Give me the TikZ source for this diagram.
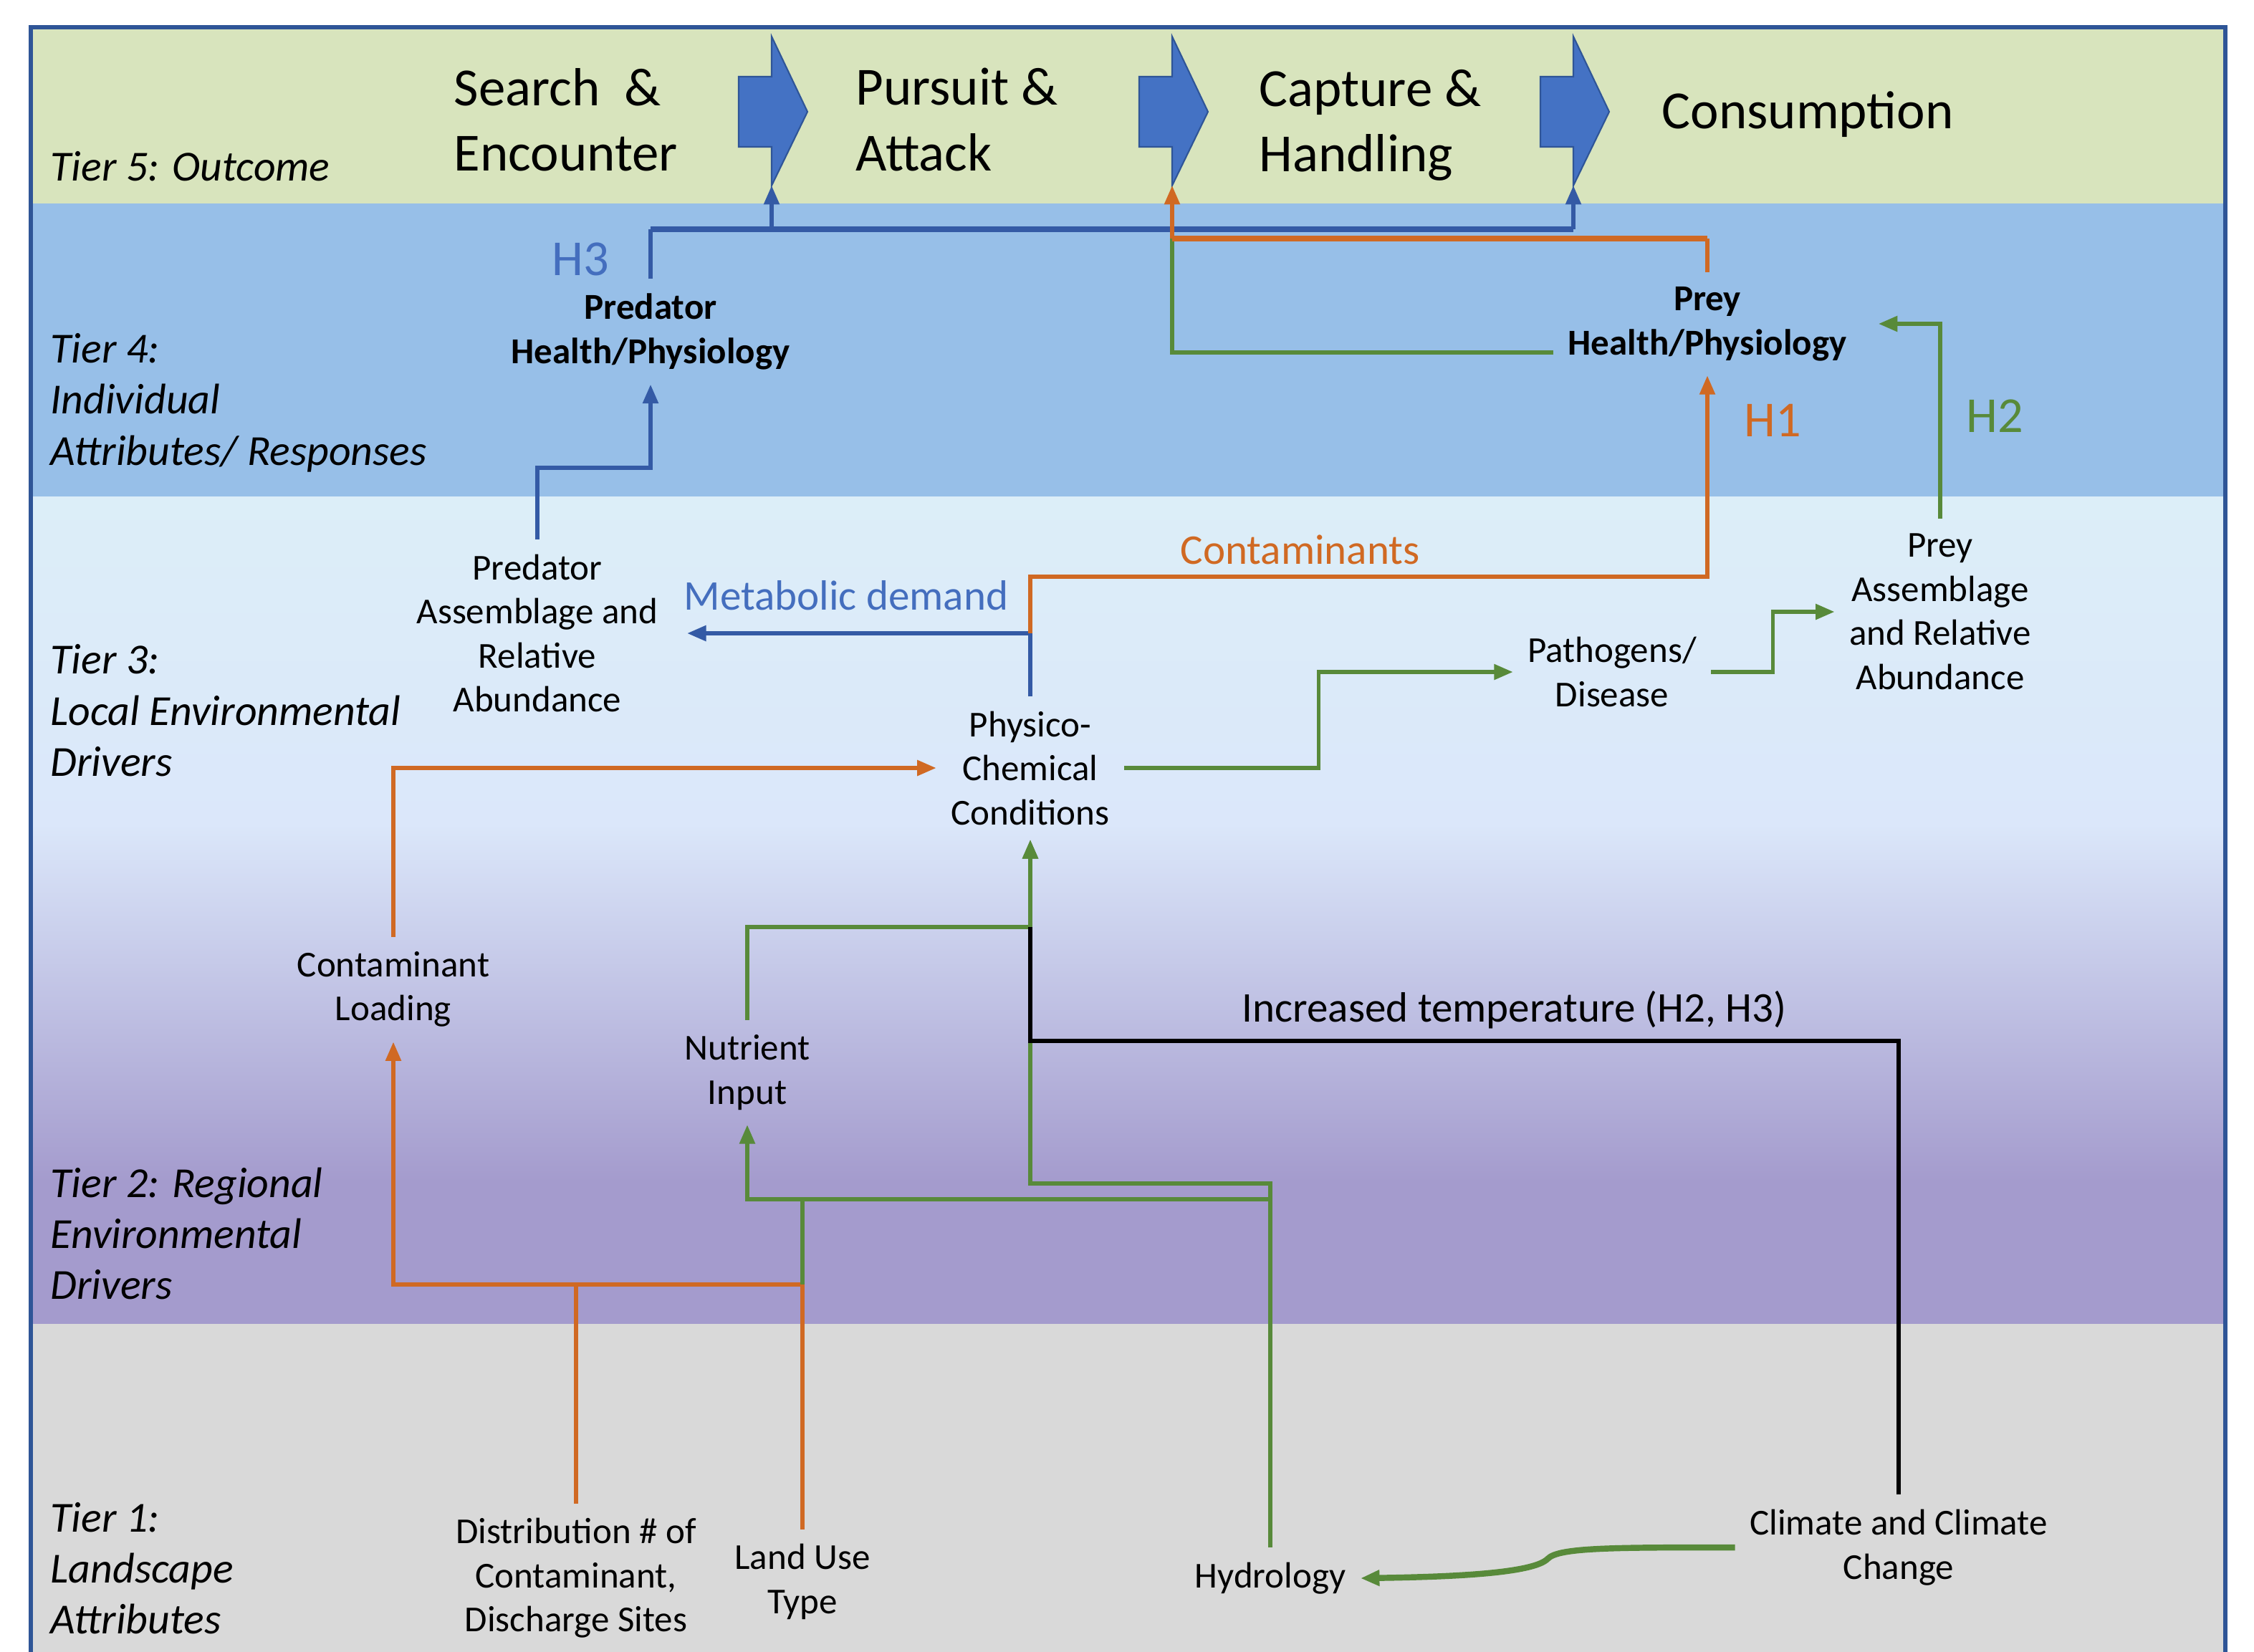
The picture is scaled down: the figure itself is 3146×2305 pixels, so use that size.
\documentclass[tikz,border=0pt]{standalone}
\usepackage{fontspec}
\setmainfont{Carlito}
\usepackage{xcolor}
\usetikzlibrary{arrows.meta,calc}

\definecolor{tierfive}{RGB}{216,228,189}
\definecolor{tierfour}{RGB}{151,191,232}
\definecolor{tierthree}{RGB}{220,238,248}
\definecolor{tiermid}{RGB}{219,231,250}
\definecolor{tiertwo}{RGB}{164,155,205}
\definecolor{tierone}{RGB}{217,217,217}
\definecolor{frameblue}{RGB}{47,85,151}
\definecolor{chevblue}{RGB}{68,114,196}
\definecolor{lineblue}{RGB}{52,90,165}
\definecolor{lineorange}{RGB}{208,105,35}
\definecolor{linegreen}{RGB}{88,138,58}
\definecolor{textblue}{RGB}{68,110,190}

\begin{document}
\begin{tikzpicture}[x=0.01cm, y=-0.01cm,
    >={Triangle[length=7.5pt,width=6pt]},
    box/.style={align=center, inner sep=0.2cm, font=\fontsize{14.5}{17.5}\selectfont},
    boxb/.style={box, font=\fontsize{14.5}{17.5}\selectfont\bfseries},
    stage/.style={align=left, anchor=west, inner sep=0, font=\fontsize{21.3}{26}\selectfont},
    tier/.style={align=left, anchor=west, inner sep=0, font=\fontsize{17}{20.3}\selectfont\itshape},
    lab/.style={anchor=base west, inner sep=0, font=\fontsize{16.8}{20}\selectfont},
    hlab/.style={anchor=base west, inner sep=0, font=\fontsize{20}{24}\selectfont},
    chev/.style={fill=chevblue, draw=frameblue, line width=0.6pt},
    bline/.style={draw=lineblue, line width=1.5pt},
    oline/.style={draw=lineorange, line width=1.5pt},
    gline/.style={draw=linegreen, line width=1.5pt},
    kline/.style={draw=black, line width=1.8pt}]
  \useasboundingbox (0,0) rectangle (3146,2305);

  % tiers
  \fill[tierfive] (43,38) rectangle (3106,284);
  \fill[tierfour] (43,284) rectangle (3106,693);
  \shade[top color=tierthree, bottom color=tiermid] (43,693) rectangle (3106,1150);
  \shade[top color=tiermid, bottom color=tiertwo] (43,1150) rectangle (3106,1650);
  \fill[tiertwo] (43,1650) rectangle (3106,1848);
  \fill[tierone] (43,1848) rectangle (3106,2310);
  \draw[frameblue, line width=0.065cm] (43,2310) -- (43,38) -- (3106,38) -- (3106,2310);

  \node[tier, anchor=base west] (t5) at (70,252) {Tier 5: Outcome};
  \node[tier] (t4) at (70,562) {Tier 4:\\Individual\\Attributes/ Responses};
  \node[tier] (t3) at (70,992) {Tier 3:\\Local Environmental\\Drivers};
  \node[tier] (t2) at (70,1722) {Tier 2: Regional\\Environmental\\Drivers};
  \node[tier] (t1) at (70,2189) {Tier 1:\\Landscape\\Attributes};

  % outcome sequence
  \node[stage] (search) at (633,167) {Search\ \ \&\\Encounter};
  \node[stage] (pursuit) at (1194,167) {Pursuit \&\\Attack};
  \node[stage] (capture) at (1757,175) {Capture \&\\Handling};
  \node[stage, anchor=base west] (consum) at (2319,179) {Consumption};
  \foreach \bx/\nm in {1077/ar1, 1636/ar2, 2196/ar3} {
    \filldraw[chev] (\bx-46,107) -- (\bx,107) -- (\bx,51) -- (\bx+50,156)
      -- (\bx,259) -- (\bx,205) -- (\bx-46,205) -- cycle;
    \coordinate (\nm) at (\bx,259);
  }

  % drivers and responses
  \node[boxb] (predH) at (908,463) {Predator\\Health/Physiology};
  \node[boxb] (preyH) at (2383,452) {Prey\\Health/Physiology};
  \node[box] (predA) at (750,884) {Predator\\Assemblage and\\Relative\\Abundance};
  \node[box] (physC) at (1438,1072) {Physico-\\Chemical\\Conditions};
  \node[box] (patho) at (2250,938) {Pathogens/\\Disease};
  \node[box] (preyA) at (2708,854) {Prey\\Assemblage\\and Relative\\Abundance};
  \node[box] (loadC) at (549,1381) {Contaminant\\Loading};
  \node[box] (nutr) at (1043,1497) {Nutrient\\Input};
  \node[box] (distr) at (804,2203) {Distribution \# of\\Contaminant,\\Discharge Sites};
  \node[box] (landU) at (1120,2208) {Land Use\\Type};
  \node[box] (hydro) at (1773,2203) {Hydrology};
  \node[box] (clim) at (2650,2160) {Climate and Climate\\Change};

  \node[hlab, text=textblue] (h3) at (770,384) {H3};
  \node[hlab, text=lineorange] (h1) at (2434,609) {H1};
  \node[hlab, text=linegreen] (h2) at (2744,603) {H2};
  \node[lab, text=textblue] (metab) at (954,851) {Metabolic demand};
  \node[lab, text=lineorange] (contam) at (1647,787) {Contaminants};
  \node[lab] (temp) at (1733,1426) {Increased temperature (H2, H3)};

  \coordinate (bj) at (2196,320);
  \coordinate (oj) at (1636,333);
  \coordinate (gj1) at (1438,1294);
  \coordinate (kj) at (1438,1453);
  \coordinate (gj2) at (1773,1652);
  \coordinate (gj3) at (1773,1674);
  \coordinate (oj2) at (1120,1793);

  % H3 (blue)
  \draw[bline] (predH.north) -- (predH.north |- bj);
  \draw[bline, line width=2.2pt] (predH.north |- bj) -- (bj);
  \draw[bline, ->] (ar1 |- bj) -- (ar1);
  \draw[bline, ->] (bj) -- (ar3);
  \draw[bline, ->] (predA.north) -- ++(0,-100) -| (predH.south);
  \draw[bline, ->, shorten >=0.2cm] (physC.north) |- (predA.east);

  % H1 (orange)
  \draw[gline] (preyH.west |- 0,492) -| (oj);
  \draw[oline] (preyH.north) -- (preyH.north |- oj);
  \draw[oline, line width=2.2pt] (preyH.north |- oj) -- (oj);
  \draw[oline, ->] (oj) -- (ar2);
  \draw[oline, ->] (physC.north |- predA.east) -- ++(0,-79) -| (preyH.south);
  \draw[oline, ->] (loadC.north) |- (physC.west);
  \draw[oline] (landU.north) -- (oj2);
  \draw[oline] (distr.north) -- (distr.north |- oj2);
  \draw[oline, ->] (oj2) -| (loadC.south);

  % H2 (green)
  \draw[gline, ->, shorten >=0.24cm] (preyA.north) |- (preyH.east);
  \draw[gline, ->] (physC.east) -| ($(physC.east)!.5!(patho.west)$) |- (patho.west);
  \draw[gline, ->] (patho.east) -| ($(patho.east)!.5!(preyA.west)$) |- (preyA.west);
  \draw[gline, ->] (nutr.north) |- (gj1) -- (physC.south);
  \draw[gline, ->] (hydro.north) -- (gj2) -| (physC.south);
  \draw[gline, ->] (gj3) -| (nutr.south);
  \draw[gline] (oj2) -- (oj2 |- gj3);
  \draw[kline] (clim.north) |- (kj) -- (gj1);
  \draw[gline, line width=2.4pt, ->] (clim.west) .. controls (2250,2160) and (2175,2160) .. (2160,2176)
    .. controls (2140,2196) and (2030,2201) .. (hydro.east);
\end{tikzpicture}
\end{document}
